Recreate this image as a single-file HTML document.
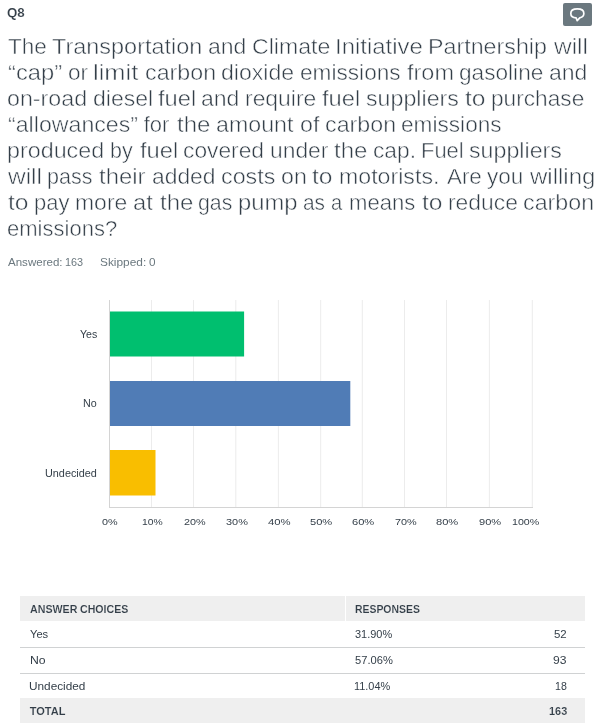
<!DOCTYPE html>
<html><head><meta charset="utf-8">
<title>Q8</title>
<style>
html,body{margin:0;padding:0;background:#fff;}
body{width:600px;height:727px;position:relative;overflow:hidden;font-family:"Liberation Sans",sans-serif;color:#333e48;}
.abs{position:absolute;white-space:nowrap;}
#cbtn{left:563px;top:3px;width:29px;height:23px;background:#6b787f;border-radius:2px;}
#cbtn svg{display:block;}
#title{left:8px;top:34px;font-size:22px;line-height:26px;color:#333e48;-webkit-text-stroke:0.5px #fff;}
#title .ln{position:absolute;left:0;height:26px;}
#title span{position:absolute;top:0;white-space:pre;transform-origin:0 0;}
.t{position:absolute;white-space:pre;line-height:20px;transform-origin:0 0;color:#333e48;}
.t.qn{-webkit-text-stroke:0.15px #fff;}
.t.st{color:#6b787f;}
.t.tb[style*="bold"]{-webkit-text-stroke:0.12px #efefef;}
#chart{left:0;top:290px;width:600px;height:250px;}
#chart svg{display:block;}
.bg{position:absolute;background:#efefef;}
.hl{position:absolute;height:1px;background:#d0d2d3;}
</style></head>
<body>
<div id="cbtn" class="abs"><svg width="29" height="23" viewBox="0 0 29 23"><path d="M14.330 5.930 C18.600 5.930 20.850 7.500 20.850 10.380 C20.850 12.4 19.400 14 17 14.700 L14.2 17.700 L13.100 14.830 C9.900 14.700 7.800 13.200 7.800 10.380 C7.800 7.500 10.050 5.930 14.330 5.930 Z" fill="none" stroke="#fff" stroke-width="1.700" stroke-linejoin="round"/></svg></div>
<div id="title" class="abs">
<div class="ln" style="top:0px"><span style="left:-0.4px;transform:scaleX(1.022)">The </span><span style="left:44.1px;transform:scaleX(1.066)">Transportation </span><span style="left:199.6px;transform:scaleX(1.047)">and </span><span style="left:243.6px;transform:scaleX(1.050)">Climate </span><span style="left:327.2px;transform:scaleX(1.088)">Initiative </span><span style="left:420.2px;transform:scaleX(1.057)">Partnership </span><span style="left:545.5px;transform:scaleX(1.112)">will</span></div>
<div class="ln" style="top:26px"><span style="left:-0.5px;transform:scaleX(1.080)">“cap” </span><span style="left:59.7px;transform:scaleX(1.025)">or </span><span style="left:85.4px;transform:scaleX(1.157)">limit </span><span style="left:136.9px;transform:scaleX(1.057)">carbon </span><span style="left:213.4px;transform:scaleX(1.049)">dioxide </span><span style="left:292.2px;transform:scaleX(1.029)">emissions </span><span style="left:398.9px;transform:scaleX(1.067)">from </span><span style="left:451.0px;transform:scaleX(1.029)">gasoline </span><span style="left:540.7px;transform:scaleX(1.047)">and</span></div>
<div class="ln" style="top:52px"><span style="left:-1.0px;transform:scaleX(1.056)">on-road </span><span style="left:84.7px;transform:scaleX(1.047)">diesel </span><span style="left:150.0px;transform:scaleX(1.078)">fuel </span><span style="left:192.5px;transform:scaleX(1.047)">and </span><span style="left:236.5px;transform:scaleX(1.041)">require </span><span style="left:314.3px;transform:scaleX(1.078)">fuel </span><span style="left:358.1px;transform:scaleX(1.055)">suppliers </span><span style="left:456.5px;transform:scaleX(1.120)">to </span><span style="left:482.7px;transform:scaleX(1.031)">purchase</span></div>
<div class="ln" style="top:78px"><span style="left:-0.5px;transform:scaleX(1.053)">“allowances” </span><span style="left:135.7px;transform:scaleX(1.000)">for </span><span style="left:168.5px;transform:scaleX(1.093)">the </span><span style="left:207.7px;transform:scaleX(1.055)">amount </span><span style="left:292.0px;transform:scaleX(1.057)">of </span><span style="left:317.0px;transform:scaleX(1.057)">carbon </span><span style="left:393.3px;transform:scaleX(1.029)">emissions</span></div>
<div class="ln" style="top:104px"><span style="left:-1.0px;transform:scaleX(1.059)">produced </span><span style="left:101.9px;transform:scaleX(0.977)">by </span><span style="left:132.0px;transform:scaleX(1.078)">fuel </span><span style="left:175.2px;transform:scaleX(1.035)">covered </span><span style="left:261.5px;transform:scaleX(1.037)">under </span><span style="left:326.3px;transform:scaleX(1.093)">the </span><span style="left:364.9px;transform:scaleX(1.034)">cap. </span><span style="left:412.9px;transform:scaleX(0.997)">Fuel </span><span style="left:461.3px;transform:scaleX(1.055)">suppliers</span></div>
<div class="ln" style="top:130px"><span style="left:0.1px;transform:scaleX(1.112)">will </span><span style="left:39.2px;transform:scaleX(0.979)">pass </span><span style="left:91.1px;transform:scaleX(1.086)">their </span><span style="left:144.0px;transform:scaleX(1.038)">added </span><span style="left:212.7px;transform:scaleX(1.059)">costs </span><span style="left:272.7px;transform:scaleX(1.055)">on </span><span style="left:304.3px;transform:scaleX(1.120)">to </span><span style="left:330.6px;transform:scaleX(1.053)">motorists. </span><span style="left:438.8px;transform:scaleX(1.017)">Are </span><span style="left:479.3px;transform:scaleX(1.025)">you </span><span style="left:521.6px;transform:scaleX(1.092)">willing</span></div>
<div class="ln" style="top:156px"><span style="left:0.0px;transform:scaleX(1.120)">to </span><span style="left:25.8px;transform:scaleX(0.999)">pay </span><span style="left:67.2px;transform:scaleX(1.043)">more </span><span style="left:125.3px;transform:scaleX(1.078)">at </span><span style="left:151.5px;transform:scaleX(1.093)">the </span><span style="left:190.0px;transform:scaleX(0.969)">gas </span><span style="left:230.1px;transform:scaleX(1.082)">pump </span><span style="left:295.1px;transform:scaleX(0.949)">as </span><span style="left:323.3px;transform:scaleX(0.916)">a </span><span style="left:340.7px;transform:scaleX(1.004)">means </span><span style="left:413.5px;transform:scaleX(1.120)">to </span><span style="left:439.7px;transform:scaleX(1.039)">reduce </span><span style="left:514.5px;transform:scaleX(1.057)">carbon</span></div>
<div class="ln" style="top:182px"><span style="left:-0.9px;transform:scaleX(1.002)">emissions?</span></div>
</div>

<div id="chart" class="abs">
<svg width="600" height="250" viewBox="0 290 600 250">
  <g stroke="#ececec" stroke-width="1">
    <line x1="151.5" y1="300" x2="151.5" y2="507"/>
    <line x1="193.5" y1="300" x2="193.5" y2="507"/>
    <line x1="235.8" y1="300" x2="235.8" y2="507"/>
    <line x1="278.4" y1="300" x2="278.4" y2="507"/>
    <line x1="320.7" y1="300" x2="320.7" y2="507"/>
    <line x1="362.3" y1="300" x2="362.3" y2="507"/>
    <line x1="404.5" y1="300" x2="404.5" y2="507"/>
    <line x1="446.5" y1="300" x2="446.5" y2="507"/>
    <line x1="489.4" y1="300" x2="489.4" y2="507"/>
    <line x1="532.3" y1="300" x2="532.3" y2="507"/>
  </g>
  <rect x="109.500" y="311.500" width="134.600" height="45" fill="#00bf6f"/>
  <rect x="109.500" y="381" width="240.800" height="45" fill="#507cb6"/>
  <rect x="109.500" y="450" width="46" height="45.500" fill="#f9be00"/>
  <g stroke="#d4d4d4" stroke-width="1" shape-rendering="crispEdges">
    <line x1="109" y1="300" x2="109" y2="507.500"/>
    <line x1="109" y1="507.500" x2="533" y2="507.500"/>
  </g>
</svg>
</div>

<div class="bg" style="left:20px;top:596px;width:325px;height:25px"></div>
<div class="bg" style="left:346px;top:596px;width:239px;height:25px"></div>
<div class="hl" style="left:20px;top:647px;width:565px"></div>
<div class="hl" style="left:20px;top:673px;width:565px"></div>
<div class="bg" style="left:20px;top:698px;width:565px;height:25px"></div>

<span class="t qn" style="left:7.1px;top:3px;font-size:13px;transform:scaleX(1.024);font-weight:bold">Q8</span>
<span class="t st" style="left:8.2px;top:252px;font-size:10.5px;transform:scaleX(1.099)">Answered:</span>
<span class="t st" style="left:64.9px;top:252px;font-size:10.5px;transform:scaleX(1.034)">163</span>
<span class="t st" style="left:99.6px;top:252px;font-size:10.5px;transform:scaleX(1.132)">Skipped:</span>
<span class="t st" style="left:148.7px;top:252px;font-size:10.5px;transform:scaleX(1.120)">0</span>
<span class="t ch" style="left:80.2px;top:325px;font-size:10px;transform:scaleX(1.058)">Yes</span>
<span class="t ch" style="left:82.9px;top:394px;font-size:10px;transform:scaleX(1.072)">No</span>
<span class="t ch" style="left:44.8px;top:464px;font-size:10px;transform:scaleX(1.084)">Undecided</span>
<span class="t ch" style="left:102.2px;top:512px;font-size:9px;transform:scaleX(1.200)">0%</span>
<span class="t ch" style="left:141.6px;top:512px;font-size:9px;transform:scaleX(1.147)">10%</span>
<span class="t ch" style="left:183.7px;top:512px;font-size:9px;transform:scaleX(1.200)">20%</span>
<span class="t ch" style="left:225.7px;top:512px;font-size:9px;transform:scaleX(1.212)">30%</span>
<span class="t ch" style="left:267.7px;top:512px;font-size:9px;transform:scaleX(1.257)">40%</span>
<span class="t ch" style="left:309.9px;top:512px;font-size:9px;transform:scaleX(1.235)">50%</span>
<span class="t ch" style="left:352.4px;top:512px;font-size:9px;transform:scaleX(1.235)">60%</span>
<span class="t ch" style="left:394.9px;top:512px;font-size:9px;transform:scaleX(1.206)">70%</span>
<span class="t ch" style="left:436.4px;top:512px;font-size:9px;transform:scaleX(1.235)">80%</span>
<span class="t ch" style="left:478.7px;top:512px;font-size:9px;transform:scaleX(1.229)">90%</span>
<span class="t ch" style="left:512.4px;top:512px;font-size:9px;transform:scaleX(1.182)">100%</span>
<span class="t tb" style="left:29.8px;top:599px;font-size:11px;transform:scaleX(0.970);font-weight:bold">ANSWER</span>
<span class="t tb" style="left:79.5px;top:599px;font-size:11px;transform:scaleX(0.964);font-weight:bold">CHOICES</span>
<span class="t tb" style="left:355.1px;top:599px;font-size:11px;transform:scaleX(0.947);font-weight:bold">RESPONSES</span>
<span class="t tb" style="left:29.7px;top:624px;font-size:11px;transform:scaleX(1.014)">Yes</span>
<span class="t tb" style="left:355.0px;top:624px;font-size:11px;transform:scaleX(0.995)">31.90%</span>
<span class="t tb" style="left:554.2px;top:624px;font-size:11px;transform:scaleX(1.040)">52</span>
<span class="t tb" style="left:29.5px;top:650px;font-size:11px;transform:scaleX(1.112)">No</span>
<span class="t tb" style="left:355.0px;top:650px;font-size:11px;transform:scaleX(1.014)">57.06%</span>
<span class="t tb" style="left:553.4px;top:650px;font-size:11px;transform:scaleX(1.102)">93</span>
<span class="t tb" style="left:29.2px;top:676px;font-size:11px;transform:scaleX(1.073)">Undecided</span>
<span class="t tb" style="left:354.3px;top:676px;font-size:11px;transform:scaleX(0.993)">11.04%</span>
<span class="t tb" style="left:555.1px;top:676px;font-size:11px;transform:scaleX(0.964)">18</span>
<span class="t tb" style="left:29.8px;top:701px;font-size:11px;transform:scaleX(1.000);font-weight:bold">TOTAL</span>
<span class="t tb" style="left:548.6px;top:701px;font-size:11px;transform:scaleX(0.991);font-weight:bold">163</span>
</body></html>
